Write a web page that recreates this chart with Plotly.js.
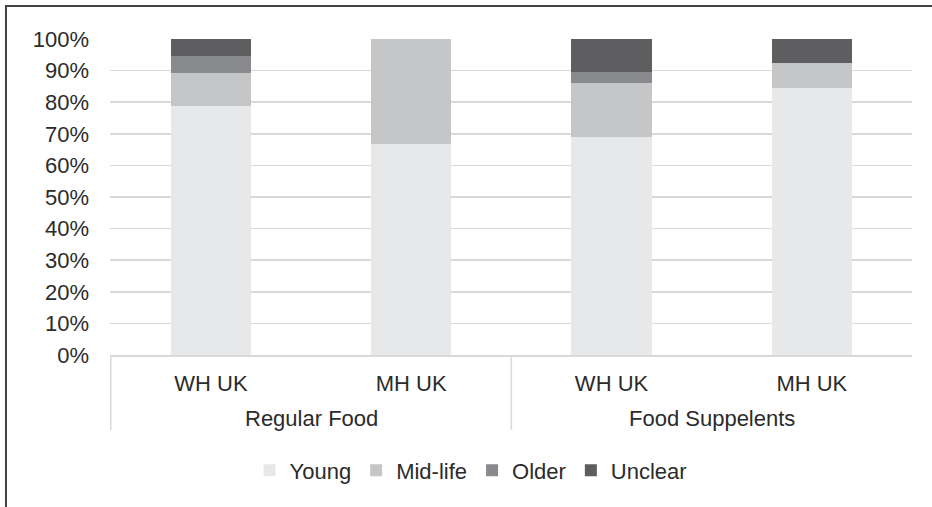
<!DOCTYPE html>
<html>
<head>
<meta charset="utf-8">
<script src="https://cdn.plot.ly/plotly-3.0.1.min.js"></script>
<style>
  html, body { margin: 0; padding: 0; background: #ffffff; }
  #wrap { position: relative; width: 932px; height: 507px; overflow: hidden; }
  #chart { position: absolute; left: 0; top: 0; width: 932px; height: 507px; }
  #frame { position: absolute; left: 5px; top: 5px; width: 1000px; height: 600px;
           border-left: 2px solid #444444; border-top: 2px solid #444444; pointer-events: none; }
</style>
</head>
<body>
<div id="wrap">
  <div id="chart"></div>
  <div id="frame"></div>
</div>
<script>
// Product groups and markets (two-level category axis)
const groups = ["Regular Food", "Regular Food", "Food Suppelents", "Food Suppelents"];
const markets = ["WH UK", "MH UK", "WH UK", "MH UK"];
const groupNames = ["Regular Food", "Food Suppelents"];

// Share of each age depiction, percent of items per bar
const young   = [78.9, 66.7, 69.0, 84.6];
const midLife = [10.5, 33.3, 17.2, 7.7];
const older   = [5.3, 0, 3.4, 0];
const unclear = [5.3, 0, 10.3, 7.7];

const seriesNames = ["Young", "Mid-life", "Older", "Unclear"];
const seriesValues = [young, midLife, older, unclear];
const seriesColors = ["#E7E8EA", "#C5C6C8", "#898A8D", "#5E5E60"];

const yTicks = [0, 10, 20, 30, 40, 50, 60, 70, 80, 90, 100];

const textColor = "#2b2b2b";
const gridColor = "#D9D9D9";
const fontFamily = "'Liberation Sans', Arial, sans-serif";
const fontSize = 22;

// One unique key per bar so repeated market names stay separate
const barKeys = groups.map((g, i) => g + " / " + markets[i]);

const traces = seriesNames.map((name, i) => ({
  type: "bar",
  name: name,
  x: barKeys,
  y: seriesValues[i],
  marker: { color: seriesColors[i], line: { width: 0 } },
  hoverinfo: "skip"
}));

// Outer group labels, centred under the bars of each group
const annotations = groupNames.map(name => {
  const idx = groups.map((g, i) => g === name ? i : -1).filter(i => i >= 0);
  const mid = (idx[0] + idx[idx.length - 1]) / 2;
  return {
    xref: "x", yref: "paper",
    x: mid, y: -0.2025,
    xanchor: "center", yanchor: "middle",
    text: name, showarrow: false,
    font: { family: fontFamily, size: fontSize, color: textColor }
  };
});

// Dividers at the start of each group
const shapes = groupNames.map(name => {
  const first = groups.indexOf(name);
  return {
    type: "line", xref: "x", yref: "paper",
    x0: first - 0.5, x1: first - 0.5, y0: 0, y1: -0.237,
    line: { color: gridColor, width: 1.5 }
  };
});

const layout = {
  width: 932,
  height: 507,
  barmode: "stack",
  bargap: 0.6,
  paper_bgcolor: "rgba(0,0,0,0)",
  plot_bgcolor: "rgba(0,0,0,0)",
  font: { family: fontFamily, size: fontSize, color: textColor },
  margin: { l: 110, r: 20, t: 39, b: 152, autoexpand: false },
  showlegend: true,
  legend: {
    orientation: "h",
    x: 0.174,
    xanchor: "left",
    y: -0.365,
    yanchor: "middle",
    font: { family: fontFamily, size: fontSize, color: textColor },
    traceorder: "normal",
    itemclick: false,
    itemdoubleclick: false
  },
  annotations: annotations,
  shapes: shapes,
  xaxis: {
    type: "category",
    tickvals: barKeys,
    ticktext: markets,
    showgrid: false,
    showline: true,
    linecolor: gridColor,
    linewidth: 1.5,
    ticks: "",
    ticklabelstandoff: 8,
    tickfont: { family: fontFamily, size: fontSize, color: textColor },
    automargin: false
  },
  yaxis: {
    range: [0, 100],
    tickvals: yTicks,
    ticktext: yTicks.map(v => v + "%"),
    showgrid: true,
    gridcolor: gridColor,
    gridwidth: 1.5,
    zeroline: false,
    showline: false,
    ticks: "",
    ticklabelstandoff: 20,
    tickfont: { family: fontFamily, size: fontSize, color: textColor },
    automargin: false
  }
};

Plotly.newPlot("chart", traces, layout, { displayModeBar: false, staticPlot: true });
</script>
</body>
</html>
